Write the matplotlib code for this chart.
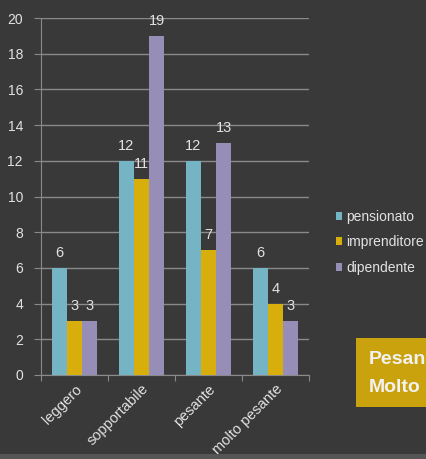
import matplotlib
matplotlib.use("Agg")
import matplotlib.pyplot as plt
from matplotlib.patches import Rectangle
import numpy as np

plt.rcParams['font.family'] = ['Liberation Sans', 'DejaVu Sans']

categories = ['leggero', 'sopportabile', 'pesante', 'molto pesante']
series_names = ['pensionato', 'imprenditore', 'dipendente']
pensionato = [6, 12, 12, 6]
imprenditore = [3, 11, 7, 4]
dipendente = [3, 19, 13, 3]
colors = ['#74b4c4', '#d8ae0c', '#968eb6']
box_lines = ['Pesan', 'Molto']

bg = '#393939'
txt = '#e2e2e2'
grid = '#8a8a8a'

fig = plt.figure(figsize=(4.27, 4.59), dpi=100, facecolor=bg)
ax = fig.add_axes([41/427, 1-375/459, 268/427, (375-18)/459], facecolor=bg)

x = np.arange(len(categories)) + 0.5
w = 0.224
for k, (vals, c, name) in enumerate(zip([pensionato, imprenditore, dipendente], colors, series_names)):
    xs = x + (k-1)*w
    ax.bar(xs, vals, width=w, color=c, label=name, zorder=3)
    for xi, v in zip(xs, vals):
        ax.text(xi, v + 0.45, str(v), ha='center', va='bottom', color=txt, fontsize=10.5, zorder=4)

ax.set_xlim(0, 4)
ax.set_ylim(0, 20)
ax.set_yticks(range(0, 21, 2))
ax.yaxis.grid(True, color=grid, linewidth=1.0, zorder=0)
ax.set_axisbelow(True)
ax.tick_params(axis='y', colors=grid, labelcolor=txt, labelsize=10, length=5, direction='out', pad=8)
ax.set_xticks([0, 1, 2, 3, 4])
ax.set_xticklabels([])
ax.tick_params(axis='x', colors=grid, length=4, direction='out')
ax.set_xticks(x, minor=True)
ax.set_xticklabels(categories, minor=True, rotation=45, ha='right', rotation_mode='anchor',
                   color=txt, fontsize=10.5)
ax.tick_params(axis='x', which='minor', length=0, pad=5)
for s in ['top', 'right']:
    ax.spines[s].set_visible(False)
ax.spines['left'].set_color(grid)
ax.spines['bottom'].set_color(grid)

leg = ax.legend(loc='upper left', bbox_to_anchor=(330/427, 1-204/459), bbox_transform=fig.transFigure,
                frameon=False, fontsize=10, labelcolor=txt, handlelength=0.5, handleheight=0.5,
                handletextpad=0.25, labelspacing=0.85, borderaxespad=0)

# yellow box on the right
fig.patches.append(Rectangle((356/427, 1-407/459), 0.3, 69/459, transform=fig.transFigure,
                             facecolor='#c9a20e', edgecolor='none', zorder=1))
fig.text(369/427, 1-359/459, box_lines[0], color='#f2f2f2', fontsize=14, fontweight='bold', va='center')
fig.text(369/427, 1-388/459, box_lines[1], color='#f2f2f2', fontsize=14, fontweight='bold', va='center')

# lighter strip at bottom edge
fig.patches.append(Rectangle((0, 0), 1, 5/459, transform=fig.transFigure,
                             facecolor='#555555', edgecolor='none', zorder=0))

fig.savefig('out.png', dpi=100, facecolor=bg)
